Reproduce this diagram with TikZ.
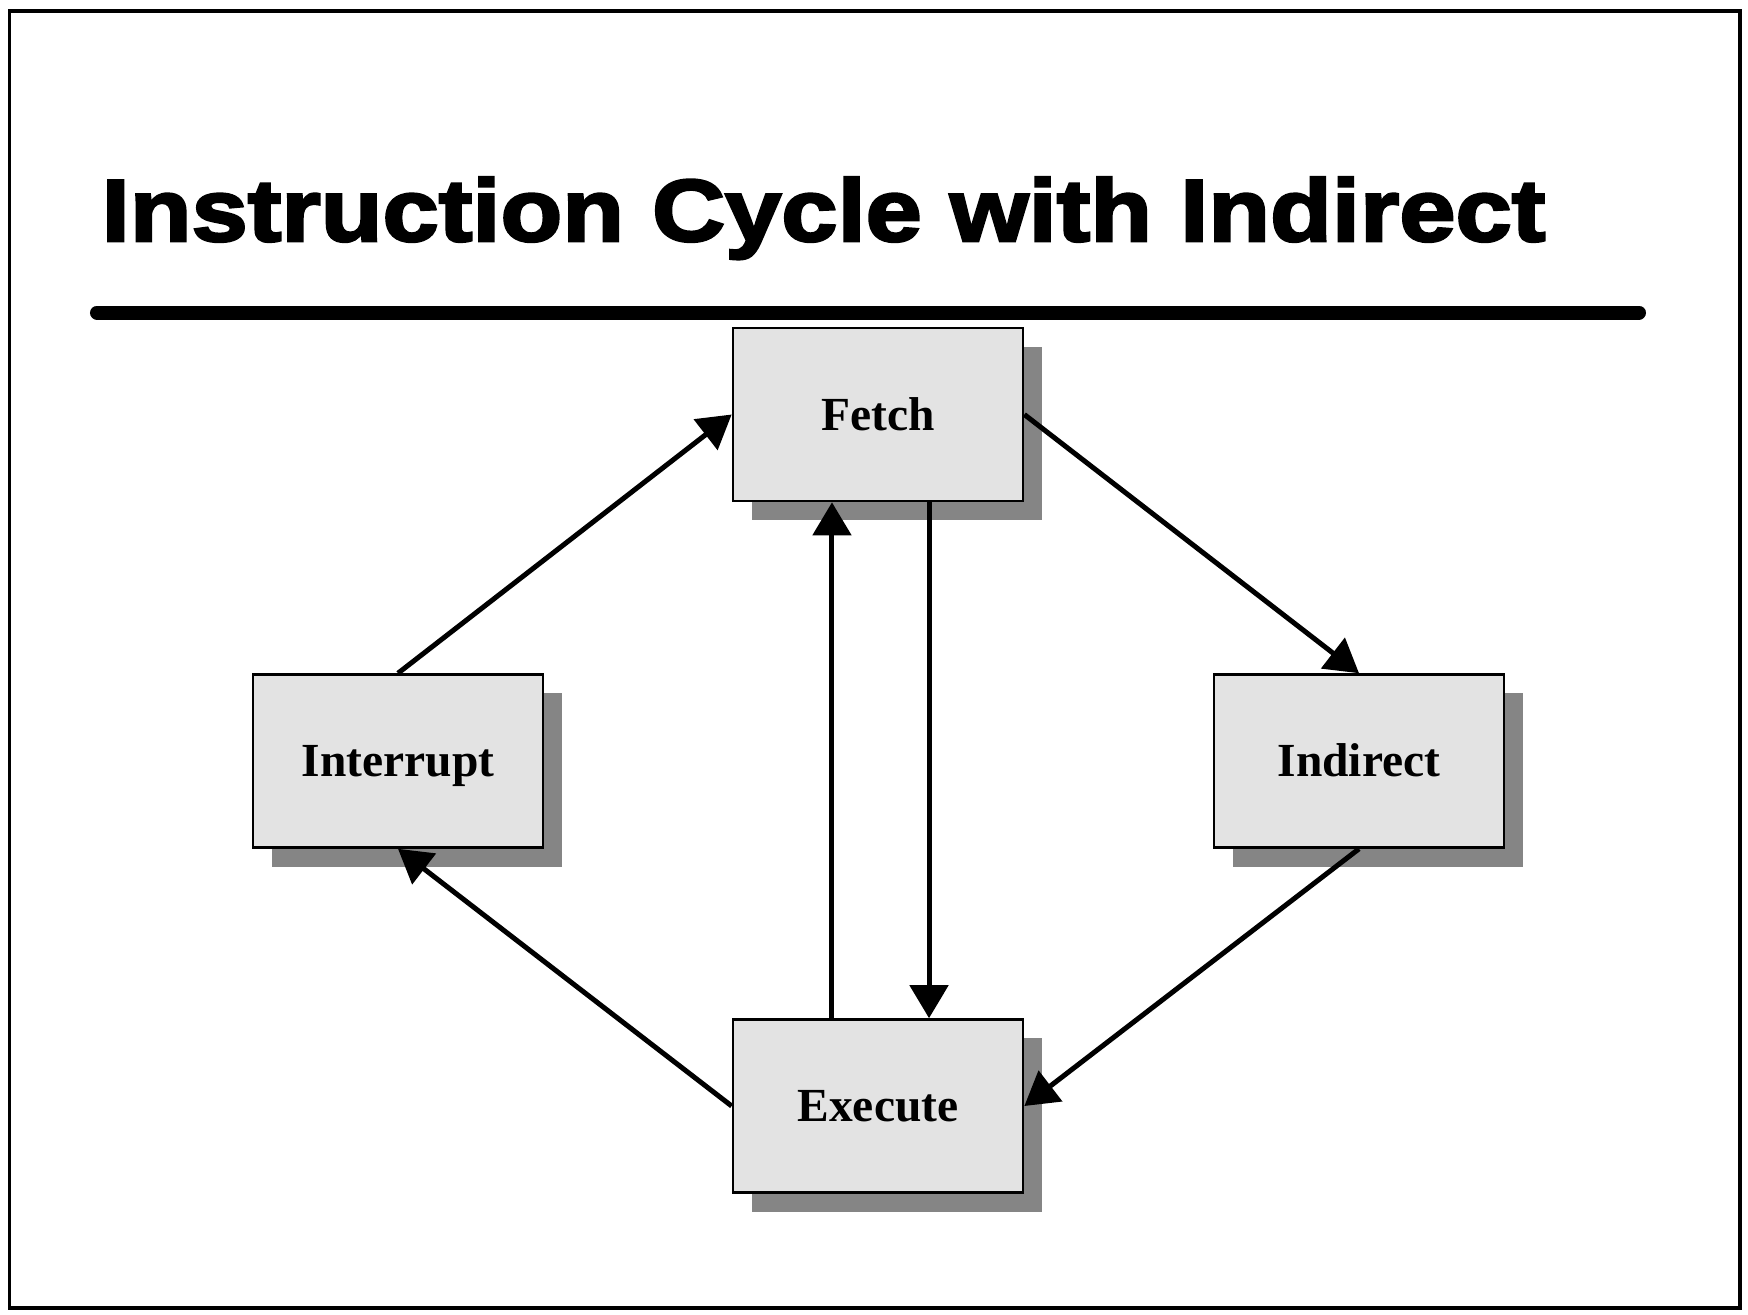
\documentclass[tikz,border=0pt]{standalone}
\usepackage{fontspec}
\setmainfont{Liberation Serif}
\newfontfamily\titlefont[BoldFeatures={FakeBold=3,FakeStretch=1.15}]{Liberation Sans}
\usetikzlibrary{arrows.meta,shadows}
\definecolor{boxgray}{HTML}{E3E3E3}
\definecolor{shadowgray}{HTML}{858585}

\begin{document}
\begin{tikzpicture}[
  x=0.01cm, y=-0.01cm,
  stage/.style={draw=black, line width=0.025cm, fill=boxgray, minimum width=2.9cm, minimum height=1.73cm, inner sep=0pt, text height=9pt, text depth=0pt, font=\fontsize{13.5}{16}\selectfont\bfseries, drop shadow={shadow xshift=0.19cm, shadow yshift=-0.19cm, fill=shadowgray, opacity=1}},
  arrow/.style={-{Triangle[length=3.3mm,width=3.8mm]}, line width=0.05cm}
]
  \useasboundingbox (0,0) rectangle (1748,1314);
  \draw[line width=0.037cm] (9.5,11) rectangle (1740,1308);

  % title and rule
  \node[anchor=base west, inner sep=0pt, font=\titlefont\bfseries\fontsize{25}{30}\selectfont] (title) at (101,241) {Instruction Cycle with Indirect};
  \draw[line width=0.14cm, line cap=round] (97,312.5) -- (1639,312.5);

  % stages
  \node[stage] (fetch) at (878,414.5) {Fetch};
  \node[stage] (interrupt) at (398,761) {Interrupt};
  \node[stage] (indirect) at (1359,761) {Indirect};
  \node[stage] (execute) at (878,1106) {Execute};

  % cycle
  \draw[arrow] (interrupt.north) -- (fetch.west);
  \draw[arrow] (fetch.east) -- (indirect.north);
  \draw[arrow] (indirect.south) -- (execute.east);
  \draw[arrow] (execute.west) -- (interrupt.south);
  \draw[arrow] ([xshift=-0.46cm]execute.north) -- ([xshift=-0.46cm]fetch.south);
  \draw[arrow] ([xshift=0.51cm]fetch.south) -- ([xshift=0.51cm]execute.north);
\end{tikzpicture}
\end{document}
